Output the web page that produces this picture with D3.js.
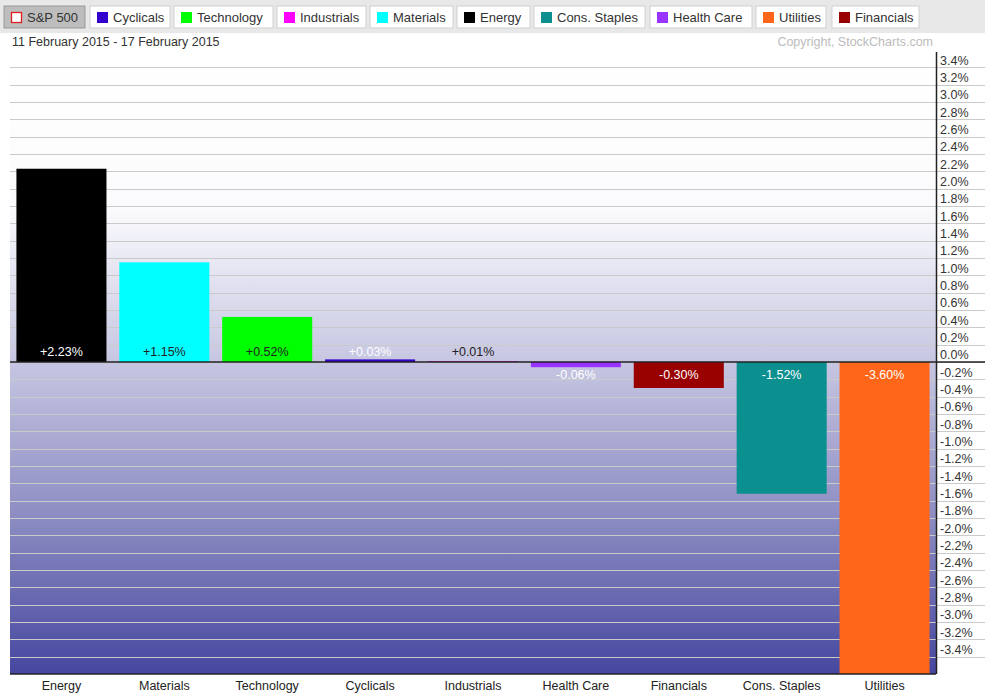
<!DOCTYPE html>
<html><head><meta charset="utf-8">
<script src="https://cdn.jsdelivr.net/npm/d3@7"></script>
<style>body{margin:0;background:#fff;}svg{display:block;font-family:Arial,"Liberation Sans",sans-serif;}</style>
</head><body><svg id="c" width="985" height="700"></svg>
<script>
const categories = ["Energy","Materials","Technology","Cyclicals","Industrials","Health Care","Financials","Cons. Staples","Utilities"];
const values = [2.23, 1.15, 0.52, 0.03, 0.01, -0.06, -0.30, -1.52, -3.60];
const barColors = ["#000000","#00ffff","#00ff00","#3300cc","#ff00ff","#9933ff","#990000","#0b8f8f","#ff6619"];
const labelColors = ["#ffffff","#222222","#222222","#ffffff","#222222","#ffffff","#ffffff","#ffffff","#ffffff"];
const legendNames = ["S&P 500","Cyclicals","Technology","Industrials","Materials","Energy","Cons. Staples","Health Care","Utilities","Financials"];
const legendColors = [null,"#3300cc","#00ff00","#ff00ff","#00ffff","#000000","#0b8f8f","#9933ff","#ff6619","#990000"];
const tickValues = d3.range(-34, 36, 2).map(v => v/10);

const svg = d3.select("#c");
const L = 10, R = 936, T = 50, B = 674;
const x = d3.scaleBand().domain(categories).range([L, R]).paddingInner(0.125).paddingOuter(0.0625);
const y = d3.scaleLinear().domain([-3.6, 3.6]).range([B, T]);

// legend bar
svg.append("rect").attr("x",0).attr("y",0).attr("width",985).attr("height",33).attr("fill","#e8e8e8");
const btnX = [4,90,174,277,370,457,534,650,756,832];
const btnW = [81,80,99,89,83,73,111,102,70,87];
legendNames.forEach((n,i)=>{
  const g = svg.append("g").attr("transform",`translate(${btnX[i]},6)`);
  g.append("rect").attr("width",btnW[i]).attr("height",22)
    .attr("fill", i===0 ? "#bdbdbd" : "#ffffff")
    .attr("stroke", i===0 ? "#999" : "#d0d0d0");
  if (i===0) {
    g.append("rect").attr("x",7.5).attr("y",6.5).attr("width",10).attr("height",10).attr("fill","#fff").attr("stroke","#e02020").attr("stroke-width",1.3);
  } else {
    g.append("rect").attr("x",7).attr("y",6).attr("width",11).attr("height",11).attr("fill",legendColors[i]);
  }
  g.append("text").attr("x",23).attr("y",16).attr("font-size",13).attr("fill","#333").text(n);
});

svg.append("text").attr("x",12).attr("y",46).attr("font-size",12.5).attr("fill","#333").text("11 February 2015 - 17 February 2015");
svg.append("text").attr("x",933).attr("y",46).attr("font-size",12.5).attr("fill","#bcbcbc").attr("text-anchor","end").text("Copyright, StockCharts.com");

// background gradient
const defs = svg.append("defs");
const gr = defs.append("linearGradient").attr("id","bg").attr("x1",0).attr("y1",0).attr("x2",0).attr("y2",1);
[[0,"#ffffff"],[0.25,"#fbfbfd"],[0.5,"#c6c6e2"],[0.75,"#8c8cc2"],[1,"#4646a0"]].forEach(s=>gr.append("stop").attr("offset",s[0]).attr("stop-color",s[1]));
svg.append("rect").attr("x",L).attr("y",T).attr("width",R-L).attr("height",B-T).attr("fill","url(#bg)");

// gridlines
svg.append("g").selectAll("line").data(tickValues).join("line")
  .attr("x1",L).attr("x2",985).attr("y1",d=>Math.round(y(d))+0.5).attr("y2",d=>Math.round(y(d))+0.5)
  .attr("stroke","#cacaca").attr("stroke-width",1.2);

// bars
svg.append("g").selectAll("rect").data(values).join("rect")
  .attr("x",(d,i)=>x(categories[i])).attr("width",x.bandwidth())
  .attr("y",d=>y(Math.max(0,d))).attr("height",d=>Math.abs(y(d)-y(0)))
  .attr("fill",(d,i)=>barColors[i]);

// bar labels
svg.append("g").selectAll("text").data(values).join("text")
  .attr("x",(d,i)=>x(categories[i])+x.bandwidth()/2)
  .attr("y",d=> d>=0 ? y(0)-6 : y(0)+17)
  .attr("text-anchor","middle").attr("font-size",12.5)
  .attr("fill",(d,i)=>labelColors[i])
  .text(d=>(d>=0?"+":"")+d.toFixed(2)+"%");

// zero line, bottom line, right axis
svg.append("line").attr("x1",L).attr("x2",985).attr("y1",y(0)).attr("y2",y(0)).attr("stroke","#222").attr("stroke-width",1.5);
svg.append("line").attr("x1",L).attr("x2",R).attr("y1",B).attr("y2",B).attr("stroke","#222").attr("stroke-width",1.5);
const axis = d3.axisRight(y).tickValues(tickValues).tickSize(0).tickFormat(d=>d.toFixed(1)+"%");
const ag = svg.append("g").attr("transform",`translate(${R},0)`).call(axis);
ag.select(".domain").attr("stroke","#222").attr("stroke-width",1.5).attr("d",`M0.5,${T+2}V${B}`);
ag.selectAll("text").attr("x",4).attr("dy","-0.25em").attr("font-size",12.5).attr("fill","#333").attr("font-family","Arial,'Liberation Sans',sans-serif");

// category labels
svg.append("g").selectAll("text").data(categories).join("text")
  .attr("x",d=>x(d)+x.bandwidth()/2).attr("y",690).attr("text-anchor","middle")
  .attr("font-size",12.5).attr("fill","#222").text(d=>d);
</script></body></html>
